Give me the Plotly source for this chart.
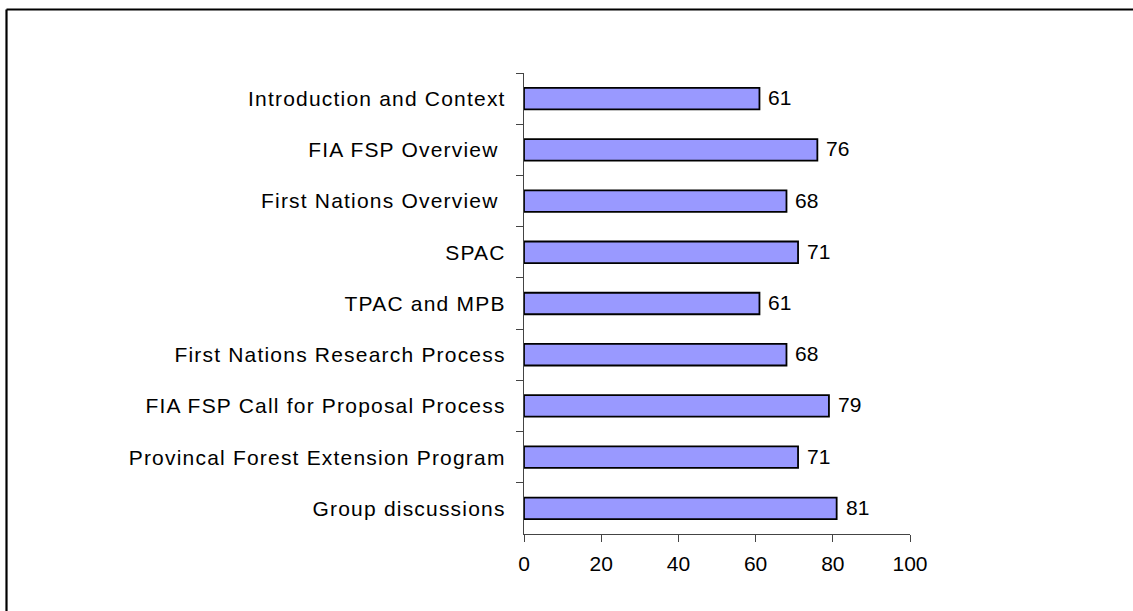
import plotly.graph_objects as go

categories = [
    "Introduction and Context",
    "FIA FSP Overview ",
    "First Nations Overview ",
    "SPAC",
    "TPAC and MPB",
    "First Nations Research Process",
    "FIA FSP Call for Proposal Process",
    "Provincal Forest Extension Program",
    "Group discussions",
]
values = [61, 76, 68, 71, 61, 68, 79, 71, 81]
x_ticks = [0, 20, 40, 60, 80, 100]

W, H = 1133, 611
L, R, T, B = 524, 223, 73, 77
pw, ph = W - L - R, H - T - B

FONT = "Liberation Sans, Arial, sans-serif"
FS = 21

fig = go.Figure()
fig.add_trace(go.Bar(
    x=values, y=categories, orientation="h",
    marker=dict(color="#9999FF", line=dict(color="black", width=1.8)),
    width=0.42,
    hoverinfo="x+y",
))

for v, c in zip(values, categories):
    fig.add_annotation(x=v, y=c, text=str(v), showarrow=False,
                       xanchor="left", xshift=7, yshift=1,
                       font=dict(family=FONT, size=FS, color="black"))

def px_x(p):
    return (p - L) / pw

def px_y(p):
    return (H - B - p) / ph

# figure frame (top and left edges visible)
fig.add_shape(type="line", xref="paper", yref="paper",
              x0=px_x(6.5), x1=px_x(W + 10), y0=px_y(9.5), y1=px_y(9.5),
              line=dict(color="black", width=2.2))
fig.add_shape(type="line", xref="paper", yref="paper",
              x0=px_x(6.5), x1=px_x(6.5), y0=px_y(9.5), y1=px_y(H + 10),
              line=dict(color="black", width=2.2))

fig.update_layout(
    width=W, height=H,
    margin=dict(l=L, r=R, t=T, b=B, pad=0),
    plot_bgcolor="white", paper_bgcolor="white",
    showlegend=False,
    font=dict(family=FONT, size=FS, color="black"),
    xaxis=dict(range=[0, 100], tickvals=x_ticks, ticks="outside", ticklen=7,
               tickcolor="#444", showline=True, linecolor="#444", linewidth=1.3,
               showgrid=False, zeroline=False, ticklabelstandoff=4,
               tickfont=dict(family=FONT, size=FS, color="black")),
    yaxis=dict(autorange="reversed", type="category", ticks="outside",
               tickson="boundaries", ticklen=7, tickcolor="#444",
               showline=True, linecolor="#444", linewidth=1.3,
               showgrid=False, zeroline=False, ticklabelstandoff=13,
               tickfont=dict(family=FONT, size=FS, color="black")),
)

post = (
    "document.body.style.margin='0';"
    "document.querySelectorAll('.ytick text').forEach(function(t){t.style.letterSpacing='1.2px';});"
)
fig.write_html("out.html", post_script=post, config={"displayModeBar": False})
